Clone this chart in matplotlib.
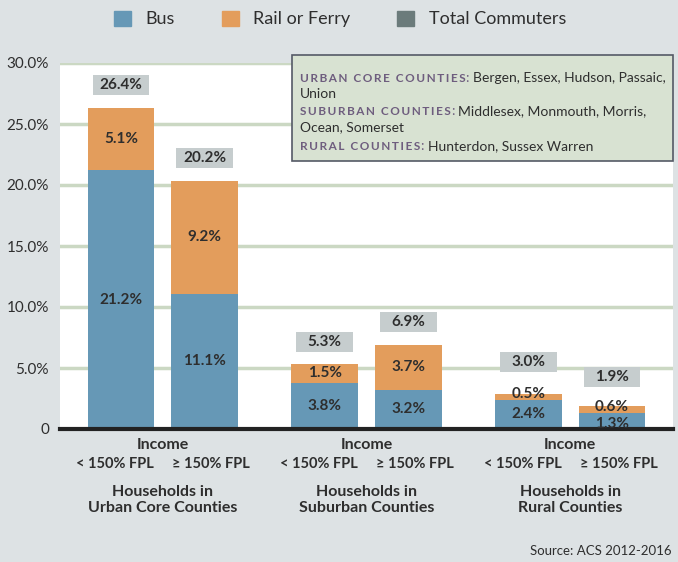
import matplotlib.pyplot as plt
from matplotlib.patches import Patch, Rectangle
from matplotlib import transforms
import numpy as np

plt.rcParams['font.family'] = ['Lato', 'DejaVu Sans']

# -- Data -----
incomes = ['< 150% FPL', '\u2265 150% FPL']
groups = ['Households in\nUrban Core Counties',
          'Households in\nSuburban Counties',
          'Households in\nRural Counties']
bus = [21.2, 11.1, 3.8, 3.2, 2.4, 1.3]
rail = [5.1, 9.2, 1.5, 3.7, 0.5, 0.6]
total = [26.4, 20.2, 5.3, 6.9, 3.0, 1.9]
y_ticks = [0, 5, 10, 15, 20, 25, 30]
y_labels = ['0', '5.0%', '10.0%', '15.0%', '20.0%', '25.0%', '30.0%']
legend_labels = ['Bus', 'Rail or Ferry', 'Total Commuters']
note_names = ['URBAN CORE COUNTIES', 'SUBURBAN COUNTIES', 'RURAL COUNTIES']
note_lines = [['Bergen, Essex, Hudson, Passaic,', 'Union'],
              ['Middlesex, Monmouth, Morris,', 'Ocean, Somerset'],
              ['Hunterdon, Sussex Warren']]

# -- Style -----
BUS = '#6698b6'
RAIL = '#e39d5c'
TOTAL = '#6b7b7b'
BG = '#dde2e4'
BOX = '#c6cdce'
TEXT = '#2e2e2e'
PURPLE = '#6e5d7e'
W, H = 678, 562

gap = 2.44
x = np.array([g * gap + i for g in range(len(groups)) for i in range(2)])
box_off = [1.8, 2.0, 1.8, 1.9, 2.5, 2.4]

fig = plt.figure(figsize=(W / 100, H / 100), dpi=100, facecolor=BG)
ax = fig.add_axes([60 / W, 1 - 429 / H, (673 - 60) / W, (429 - 63) / H])

ax.bar(x, bus, 0.8, color=BUS, zorder=3)
ax.bar(x, rail, 0.8, bottom=bus, color=RAIL, zorder=3)
ax.set_xlim(-0.73, 6.61)
ax.set_ylim(0, 30)
ax.set_yticks(y_ticks, y_labels)
ax.set_xticks([])
ax.tick_params(length=0, pad=8, labelsize=11, colors=TEXT)
ax.yaxis.grid(True, color='#cbd8c3', lw=2.5, zorder=0)
for s in ax.spines.values():
    s.set_visible(False)
ax.axhline(0, color='#222222', lw=3, zorder=4, clip_on=False)

# segment labels (small segments nudged apart a little)
for xi, b, r in zip(x, bus, rail):
    ax.annotate(f'{b}%', (xi, b / 2), xytext=(0, -2 if b < 2 else 0),
                textcoords='offset points', ha='center', va='center', fontsize=11,
                fontweight='bold', color=TEXT, zorder=5)
    ax.annotate(f'{r}%', (xi, b + r / 2), xytext=(0, 2 if r < 1 else 0),
                textcoords='offset points', ha='center', va='center', fontsize=11,
                fontweight='bold', color=TEXT, zorder=5)

# total labels in grey boxes
for xi, t, off in zip(x, total, box_off):
    ax.add_patch(Rectangle((xi - 0.34, t + off - 0.82), 0.68, 1.64,
                           fc=BOX, ec='none', zorder=5, clip_on=False))
    ax.text(xi, t + off, f'{t}%', ha='center', va='center', fontsize=11,
            fontweight='bold', color=TEXT, zorder=6)

# x labels
blend = transforms.blended_transform_factory(ax.transData, fig.transFigure)
for g, name in enumerate(groups):
    cx = x[2 * g:2 * g + 2].mean()
    ax.text(cx, 1 - 445 / H, 'Income', transform=blend, ha='center', va='center',
            fontsize=11.5, fontweight='bold', color=TEXT)
    for i, shift in enumerate([-0.07, 0.08]):
        ax.text(x[2 * g + i] + shift, 1 - 464 / H, incomes[i], transform=blend,
                ha='center', va='center', fontsize=10.5, fontweight='bold', color=TEXT)
    ax.text(cx, 1 - 500 / H, name, transform=blend, ha='center', va='center',
            fontsize=11.5, fontweight='bold', color=TEXT, linespacing=1.2)

# legend
handles = [Patch(color=c) for c in [BUS, RAIL, TOTAL]]
fig.legend(handles, legend_labels, loc='center', bbox_to_anchor=(340 / W, 1 - 19 / H),
           ncol=3, frameon=False, fontsize=13, handlelength=0.95, handleheight=0.95,
           columnspacing=2.6, handletextpad=0.8, labelcolor=TEXT)

# county note box
ax.add_patch(Rectangle((292 / W, 1 - 161 / H), (673 - 292) / W, (161 - 55) / H,
                       transform=fig.transFigure, fc='#d8e2d2', ec='#555a66', lw=1.2,
                       zorder=7, clip_on=False))
baselines = [[82, 98], [115, 131], [150]]
for name, lines, bl in zip(note_names, note_lines, baselines):
    caps = ax.text(300 / W, 1 - bl[0] / H, '\u2009'.join(name), transform=fig.transFigure,
                   fontsize=8.5, fontweight='bold', color=PURPLE, va='baseline',
                   zorder=8, clip_on=False)
    colon = ax.annotate(':', xy=(1, 0), xycoords=caps, va='bottom', fontsize=10,
                        color=PURPLE, zorder=8, annotation_clip=False)
    ax.annotate(lines[0], xy=(1, 0), xycoords=colon, xytext=(3, 0),
                textcoords='offset points', va='bottom', fontsize=10,
                color=TEXT, zorder=8, annotation_clip=False)
    for line, y in zip(lines[1:], bl[1:]):
        ax.text(300 / W, 1 - y / H, line, transform=fig.transFigure, fontsize=10,
                color=TEXT, va='baseline', zorder=8, clip_on=False)

fig.text(672 / W, 1 - 551 / H, 'Source: ACS 2012-2016', ha='right', va='center',
         fontsize=9.5, color=TEXT)

fig.savefig('out.png', dpi=100, facecolor=BG)
